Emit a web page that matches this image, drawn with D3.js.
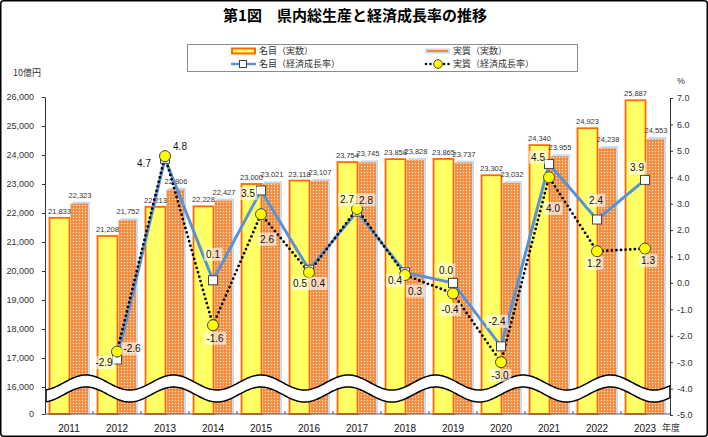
<!DOCTYPE html>
<html>
<head>
<meta charset="utf-8">
<script src="https://cdn.jsdelivr.net/npm/d3@7"></script>
<style>
  body { margin: 0; background: #fff; }
  svg { display: block; font-family: "Liberation Sans", Arial, "Noto Sans CJK JP", sans-serif; }
  .jp { font-family: "Noto Sans CJK JP", sans-serif; }
</style>
</head>
<body>
<svg id="chart" width="708" height="437"></svg>
<script>
// Data
const years = ["2011", "2012", "2013", "2014", "2015", "2016", "2017", "2018", "2019", "2020", "2021", "2022", "2023"];
const nominalGdp = [21833, 21208, 22213, 22228, 23000, 23118, 23754, 23858, 23865, 23302, 24340, 24923, 25887];
const realGdp = [22323, 21752, 22806, 22427, 23021, 23107, 23745, 23828, 23737, 23032, 23955, 24238, 24553];
const nominalGrowth = [null, -2.9, 4.7, 0.1, 3.5, 0.5, 2.7, 0.4, 0.0, -2.4, 4.5, 2.4, 3.9];
const realGrowth = [null, -2.6, 4.8, -1.6, 2.6, 0.4, 2.8, 0.3, -0.4, -3.0, 4.0, 1.2, 1.3];
const leftTicks = [0, 16000, 17000, 18000, 19000, 20000, 21000, 22000, 23000, 24000, 25000, 26000];
const rightTicks = [7, 6, 5, 4, 3, 2, 1, 0, -1, -2, -3, -4, -5];

// Label placement (relative to marker), layout only
const nominalLabelShift = [null, [-13, 3], [-21, 5], [0, -26], [-13, 3], [-9, 14], [-10, -12], [-10, 8], [-7, -13], [-4, -25], [-11, -7], [-1, -19], [-8, -12]];
const realLabelShift = [null, [15, -3], [15, -10], [2, 13], [6, 25], [9, 11], [9, -9], [10, 16], [-3, 16], [-1, 13], [4, 31], [-3, 12], [3, 12]];

// Colors
const yellow = "#FFFF66";
const orangeLine = "#FF6A00";
const orangeFill = "#F08C40";
const blueLine = "#5A92D6";
const shadowBlue = "#C9DAF0";

const rows = years.map((year, i) => ({
  year, i,
  nominal: nominalGdp[i], real: realGdp[i],
  ng: nominalGrowth[i], rg: realGrowth[i]
}));

const svg = d3.select("#chart");

// Scales (broken left axis: 0..16000 is squeezed)
const x = d3.scaleBand().domain(years).range([45, 669]);
const yL = d3.scaleLinear().domain([0, 16000, 26000]).range([414, 387, 97]);
const yR = d3.scaleLinear().domain([-5, 7]).range([415, 98]);
const cx = d => x(d) + x.bandwidth() / 2;

// Light dots laid over the orange real bars
const pat = svg.append("defs").append("pattern")
  .attr("id", "dots").attr("width", 3).attr("height", 3)
  .attr("patternUnits", "userSpaceOnUse");
pat.append("circle").attr("cx", 1.5).attr("cy", 1.5).attr("r", 0.75).attr("fill", "#FFE6CC");

// Frame
svg.append("rect")
  .attr("x", 0.75).attr("y", 0.75).attr("width", 706.5).attr("height", 435.5)
  .attr("rx", 3).attr("fill", "none").attr("stroke", "#000").attr("stroke-width", 1.5);

// Title
svg.append("text").attr("class", "jp")
  .attr("x", 355).attr("y", 21).attr("text-anchor", "middle")
  .attr("font-size", 15).attr("font-weight", "bold").attr("fill", "#000")
  .text("第1図　県内総生産と経済成長率の推移");

// Legend
const legend = svg.append("g");
legend.append("rect")
  .attr("x", 187.5).attr("y", 44.5).attr("width", 390).attr("height", 27)
  .attr("fill", "#fff").attr("stroke", "#8c8c8c");
legend.append("rect")
  .attr("x", 232).attr("y", 48.5).attr("width", 23).attr("height", 5)
  .attr("fill", yellow).attr("stroke", orangeLine).attr("stroke-width", 2);
legend.append("rect")
  .attr("x", 425).attr("y", 48.5).attr("width", 25).attr("height", 5).attr("fill", shadowBlue);
legend.append("rect")
  .attr("x", 427).attr("y", 50).attr("width", 21).attr("height", 2).attr("fill", orangeFill);
legend.append("line")
  .attr("x1", 231).attr("x2", 256).attr("y1", 64).attr("y2", 64)
  .attr("stroke", blueLine).attr("stroke-width", 2.5);
legend.append("rect")
  .attr("x", 239.5).attr("y", 60.5).attr("width", 7).attr("height", 7)
  .attr("fill", "#fff").attr("stroke", "#444");
legend.append("line")
  .attr("x1", 426).attr("x2", 450).attr("y1", 64).attr("y2", 64)
  .attr("stroke", "#000").attr("stroke-width", 2.5)
  .attr("stroke-dasharray", "0 4.5").attr("stroke-linecap", "round");
legend.append("circle")
  .attr("cx", 438).attr("cy", 64).attr("r", 4.3)
  .attr("fill", "#FFFF00").attr("stroke", "#444");
const legendText = [
  ["名目（実数）", 259, 51], ["実質（実数）", 453, 51],
  ["名目（経済成長率）", 259, 64], ["実質（経済成長率）", 453, 64]
];
legend.selectAll("text.lg").data(legendText).join("text")
  .attr("class", "jp lg")
  .attr("x", d => d[1]).attr("y", d => d[2]).attr("dy", "0.36em")
  .attr("font-size", 9).attr("fill", "#333")
  .text(d => d[0]);

// Bars
const bars = svg.append("g");
bars.selectAll("rect.nom").data(rows).join("rect")
  .attr("class", "nom")
  .attr("x", d => x(d.year) + 4.5).attr("width", 20)
  .attr("y", d => yL(d.nominal)).attr("height", d => yL(0) - yL(d.nominal))
  .attr("fill", yellow).attr("stroke", orangeLine).attr("stroke-width", 1.8);
bars.selectAll("rect.shadow").data(rows).join("rect")
  .attr("class", "shadow")
  .attr("x", d => x(d.year) + 27.5).attr("width", 17.5)
  .attr("y", d => yL(d.real) - 2).attr("height", d => yL(0) - yL(d.real) + 2)
  .attr("fill", shadowBlue);
bars.selectAll("rect.real").data(rows).join("rect")
  .attr("class", "real")
  .attr("x", d => x(d.year) + 25.5).attr("width", 17.5)
  .attr("y", d => yL(d.real)).attr("height", d => yL(0) - yL(d.real))
  .attr("fill", orangeFill);
bars.selectAll("rect.realdots").data(rows).join("rect")
  .attr("class", "realdots")
  .attr("x", d => x(d.year) + 25.5).attr("width", 17.5)
  .attr("y", d => yL(d.real)).attr("height", d => yL(0) - yL(d.real))
  .attr("fill", "url(#dots)");

// Bar values
const fmt = d3.format(",");
bars.selectAll("text.nomv").data(rows).join("text")
  .attr("class", "nomv")
  .attr("x", d => x(d.year) + 14.5).attr("y", d => yL(d.nominal) - 4)
  .attr("text-anchor", "middle").attr("font-size", 7.5).attr("fill", "#333")
  .text(d => fmt(d.nominal));
bars.selectAll("text.realv").data(rows).join("text")
  .attr("class", "realv")
  .attr("x", d => x(d.year) + 35).attr("y", d => yL(d.real) - 6)
  .attr("text-anchor", "middle").attr("font-size", 7.5).attr("fill", "#333")
  .text(d => fmt(d.real));

// Wavy break band
const waveXs = d3.range(46, 670.5, 1.5);
const waveTop = xv => 382.5 - 7.5 * Math.cos(2 * Math.PI * (xv - 86) / 87.4);
svg.append("path")
  .datum(waveXs)
  .attr("d", d3.area().x(d => d).y1(d => waveTop(d)).y0(d => waveTop(d) + 12))
  .attr("fill", "#fff").attr("stroke", "#000").attr("stroke-width", 1.5)
  .attr("stroke-linejoin", "round");

// Axes
const leftAxis = svg.append("g")
  .attr("transform", "translate(45,0)")
  .call(d3.axisLeft(yL).tickValues(leftTicks).tickFormat(fmt).tickSize(3).tickSizeOuter(0).tickPadding(8));
const rightAxis = svg.append("g")
  .attr("transform", "translate(670,0)")
  .call(d3.axisRight(yR).tickValues(rightTicks).tickFormat(d => d.toFixed(1)).tickSize(3).tickSizeOuter(0).tickPadding(4));
[leftAxis, rightAxis].forEach(g => {
  g.select(".domain").attr("stroke", "#333");
  g.selectAll(".tick line").attr("stroke", "#333");
  g.selectAll(".tick text").attr("font-size", 9).attr("fill", "#333")
    .attr("font-family", "'Liberation Sans', Arial, sans-serif");
});

const bottom = svg.append("g");
bottom.append("line")
  .attr("x1", 45).attr("x2", 670).attr("y1", yL(0)).attr("y2", yL(0))
  .attr("stroke", "#555").attr("stroke-width", 1.2);
bottom.selectAll("line.bt").data(years.slice(1)).join("line")
  .attr("class", "bt")
  .attr("x1", d => x(d)).attr("x2", d => x(d))
  .attr("y1", yL(0)).attr("y2", yL(0) - 3)
  .attr("stroke", "#555");
bottom.selectAll("text").data(years).join("text")
  .attr("x", d => cx(d)).attr("y", 432)
  .attr("text-anchor", "middle").attr("font-size", 10).attr("fill", "#111")
  .text(d => d);

// Units
svg.append("text").attr("class", "jp").attr("x", 13).attr("y", 73).attr("dy", "0.36em")
  .attr("font-size", 9).attr("fill", "#333").text("10億円");
svg.append("text").attr("x", 677).attr("y", 81).attr("dy", "0.36em")
  .attr("font-size", 9).attr("fill", "#333").text("%");
svg.append("text").attr("class", "jp").attr("x", 662).attr("y", 428).attr("dy", "0.36em")
  .attr("font-size", 9).attr("fill", "#333").text("年度");

// Growth lines
const growthRows = rows.filter(d => d.ng != null);
const lineNom = d3.line().x(d => cx(d.year)).y(d => yR(d.ng));
const lineReal = d3.line().x(d => cx(d.year)).y(d => yR(d.rg));

svg.append("path").datum(growthRows)
  .attr("d", lineNom).attr("fill", "none")
  .attr("stroke", blueLine).attr("stroke-width", 3).attr("stroke-linejoin", "round");
svg.append("path").datum(growthRows)
  .attr("d", lineReal).attr("fill", "none")
  .attr("stroke", "#000").attr("stroke-width", 2.8)
  .attr("stroke-dasharray", "0 4.6").attr("stroke-linecap", "round");

svg.append("g").selectAll("rect").data(growthRows).join("rect")
  .attr("x", d => cx(d.year) - 4.5).attr("y", d => yR(d.ng) - 4.5)
  .attr("width", 9).attr("height", 9)
  .attr("fill", "#fff").attr("stroke", "#444");
svg.append("g").selectAll("circle").data(growthRows).join("circle")
  .attr("cx", d => cx(d.year)).attr("cy", d => yR(d.rg)).attr("r", 5.5)
  .attr("fill", "#FFFF00").attr("stroke", "#444");

// Growth labels with translucent boxes
function addRateLabels(key, shifts) {
  const g = svg.append("g");
  growthRows.forEach(d => {
    const s = shifts[d.i];
    const lx = cx(d.year) + s[0];
    const ly = yR(d[key]) + s[1];
    const item = g.append("g");
    const t = item.append("text")
      .attr("x", lx).attr("y", ly).attr("dy", "0.36em")
      .attr("text-anchor", "middle").attr("font-size", 10).attr("fill", "#111")
      .text(d[key].toFixed(1));
    const b = t.node().getBBox();
    item.insert("rect", "text")
      .attr("x", b.x - 2).attr("y", b.y - 1)
      .attr("width", b.width + 4).attr("height", b.height + 2)
      .attr("fill", "#fff").attr("fill-opacity", 0.6);
  });
}
addRateLabels("ng", nominalLabelShift);
addRateLabels("rg", realLabelShift);
</script>
</body>
</html>
